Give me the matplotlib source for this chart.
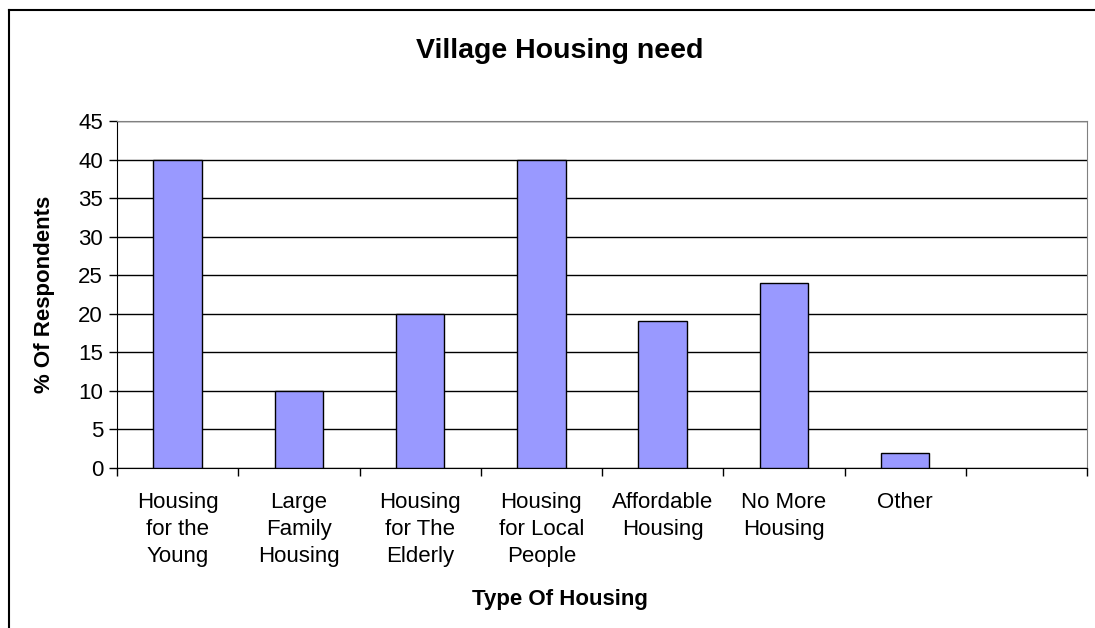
import matplotlib.pyplot as plt
from matplotlib.lines import Line2D

plt.rcParams['font.family'] = ['Liberation Sans', 'DejaVu Sans']

categories = ['Housing\nfor the\nYoung', 'Large\nFamily\nHousing', 'Housing\nfor The\nElderly',
              'Housing\nfor Local\nPeople', 'Affordable\nHousing', 'No More\nHousing', 'Other', '']
values = [40, 10, 20, 40, 19, 24, 2, 0]

W, H = 1095, 628
fig = plt.figure(figsize=(W / 100, H / 100), dpi=100)
ax = fig.add_axes([117 / W, 1 - 468 / H, (1087 - 117) / W, (468 - 121) / H])

x = range(len(categories))
ax.bar(list(x)[:-1], values[:-1], 0.4, color='#9999FF', edgecolor='black', linewidth=1, zorder=3)

ax.set_xlim(-0.5, len(categories) - 0.5)
ax.set_ylim(0, 45)
ax.set_yticks(range(0, 50, 5))
ax.yaxis.grid(True, color='black', linewidth=1, zorder=0)

ax.set_xticks([i + 0.5 for i in range(-1, len(categories))])
ax.set_xticklabels([])
ax.set_xticks(list(x), minor=True)
ax.set_xticklabels(categories, minor=True, fontsize=16, linespacing=1.38, va='top')
ax.tick_params(axis='x', which='minor', length=0, pad=17)
ax.tick_params(axis='x', which='major', length=6, width=1, direction='out')
ax.tick_params(axis='y', length=6, width=1, labelsize=16, pad=4)

for s in ['top', 'right']:
    ax.spines[s].set_color('#808080')
for s in ['left', 'bottom']:
    ax.spines[s].set_color('black')

ax.set_ylabel('% Of Respondents', fontsize=16, fontweight='bold')
ax.yaxis.set_label_coords(-(117 - 45) / (1087 - 117), 0.5)
ax.set_xlabel('Type Of Housing', fontsize=16, fontweight='bold')
ax.xaxis.set_label_coords((560 - 117) / (1087 - 117), -(600 - 468) / (468 - 121))
ax.xaxis.label.set_va('center')
ax.yaxis.label.set_va('center')

fig.text(560 / W, 1 - 51 / H, 'Village Housing need', ha='center', va='center',
         fontsize=20.5, fontweight='bold')

# outer chart border (left and top edges visible)
fig.add_artist(Line2D([9 / W, 9 / W], [0, 1 - 10 / H], color='black', linewidth=1.5))
fig.add_artist(Line2D([9 / W, 1], [1 - 10 / H, 1 - 10 / H], color='black', linewidth=1.5))

fig.savefig('out.png', dpi=100)
